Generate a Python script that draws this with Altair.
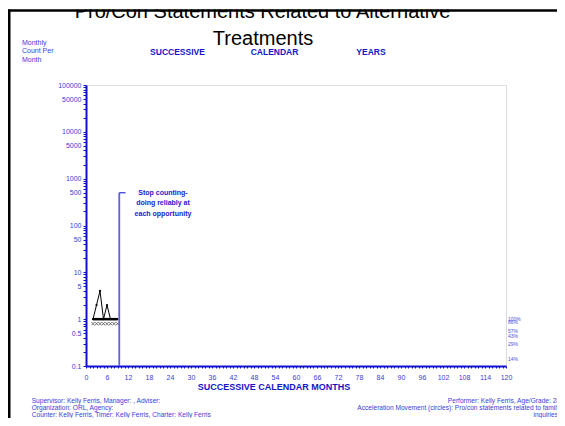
import altair as alt
import pandas as pd

# ---------------- data ----------------
months = [2, 3, 4, 5, 6, 7, 8, 9]
accel_counts = [1, 2, 4, 1, 2, 1, 1, 1]          # circles: pro/con statements
decel_counts = [0.8, 0.8, 0.8, 0.8, 0.8, 0.8, 0.8, 0.8]  # Xs: zero counts below floor
floor_months = [2, 9]
floor_values = [1, 1]
phase_month = 9.5
phase_top = 500
phase_end_month = 11.3
phase_text = ["Stop counting-", "doing reliably at", "each opportunity"]
phase_text_month = 22
pct_labels = ["100%", "86%", "57%", "43%", "29%", "14%"]
pct_values = [1.0, 0.86, 0.57, 0.43, 0.29, 0.14]
y_label_values = [0.1, 0.5, 1, 5, 10, 50, 100, 500, 1000, 5000, 10000, 50000, 100000]
x_label_step = 6

FONT = "Liberation Sans"
BLUE = "#1414c8"
LBLUE = "#3c3cdc"
AXBLUE = "#1010d0"

y_tick_values = []
for k in range(-1, 5):
    for m in range(1, 10):
        y_tick_values.append(round(m * 10 ** k, 6))
y_tick_values.append(100000)
x_tick_values = list(range(0, 121))

y_lab_expr = "indexof(" + str(y_label_values) + ", datum.value) >= 0 ? datum.label : ''"
x_lab_expr = "datum.value % " + str(x_label_step) + " == 0 ? datum.label : ''"

xscale = alt.Scale(domain=[0, 120], nice=False, zero=False)
yscale = alt.Scale(type="log", domain=[0.1, 100000], nice=False)
xaxis = alt.Axis(values=x_tick_values, labelExpr=x_lab_expr, title=None, tickSize=2,
                 labelPadding=5, labelFontSize=7, labelColor=LBLUE, labelFont=FONT,
                 domainColor=AXBLUE, domainWidth=2, tickColor=AXBLUE,
                 labelFlush=False, labelOverlap=False, labelBound=False, grid=False)
yaxis = alt.Axis(values=y_tick_values, labelExpr=y_lab_expr, format="~g", title=None,
                 tickSize=3, labelPadding=2, labelFontSize=7, labelColor=LBLUE,
                 labelFont=FONT, domainColor=AXBLUE, domainWidth=2,
                 tickColor=AXBLUE, labelOverlap=False, labelBound=False, grid=False)


def X(field="month"):
    return alt.X(field + ":Q", scale=xscale, axis=xaxis)


def Y(field="count"):
    return alt.Y(field + ":Q", scale=yscale, axis=yaxis)


acc_df = pd.DataFrame({"month": months, "count": accel_counts})
dec_df = pd.DataFrame({"month": months, "count": decel_counts})
floor_df = pd.DataFrame({"month": floor_months, "count": floor_values})
pct_df = pd.DataFrame({"label": pct_labels, "count": pct_values, "month": [120] * len(pct_values)})
phase_df = pd.DataFrame({"month": [phase_month], "count": [0.1], "top": [phase_top],
                         "m2": [phase_end_month], "tm": [phase_text_month],
                         "txt": [phase_text]})
one = alt.Data(values=[{}])

floor_line = alt.Chart(floor_df).mark_line(color="black", strokeWidth=2.5).encode(x=X(), y=Y())
acc_line = alt.Chart(acc_df).mark_line(
    color="black", strokeWidth=1,
    point=alt.OverlayMarkDef(filled=True, size=5, color="black")).encode(x=X(), y=Y())
dec_pts = alt.Chart(dec_df).mark_point(
    shape="M-1,-1L1,1M-1,1L1,-1", size=10, filled=False, color="black",
    strokeWidth=0.8).encode(x=X(), y=Y())

phase_v = alt.Chart(phase_df).mark_rule(color="#6060e6", strokeWidth=1.8).encode(
    x=X(), y=Y(), y2="top:Q")
phase_h = alt.Chart(phase_df).mark_rule(color="#3030d8", strokeWidth=1.2).encode(
    x=X(), x2="m2:Q", y=Y("top"))
phase_lbl = alt.Chart(phase_df).mark_text(
    font=FONT, fontSize=7, fontWeight="bold", color="#1a1ad0", lineHeight=10.7,
    align="center", baseline="middle").encode(
    x=X("tm"), y=Y("top"), text="txt")

pct_lbl = alt.Chart(pct_df).mark_text(
    font=FONT, fontSize=5, color="#5050dc", align="left", baseline="middle", dx=2).encode(
    x=X(), y=Y(), text="label:N")


def txt(text, x, y, size, color, align="left", weight="normal"):
    return alt.Chart(one).mark_text(
        font=FONT, fontSize=size, color=color, align=align, baseline="alphabetic",
        fontWeight=weight).encode(
        x=alt.value(x), y=alt.value(y), text=alt.value(text))


title1 = txt("Pro/Con Statements Related to Alternative", 176.5, -67, 20, "black", "center")
title2 = txt("Treatments", 177, -40, 20, "black", "center")
mask = alt.Chart(one).mark_rect(color="white").encode(
    x=alt.value(-80), x2=alt.value(480), y=alt.value(-80), y2=alt.value(-75.6))
top_border = alt.Chart(one).mark_rule(color="black", strokeWidth=2.5).encode(
    x=alt.value(-80), x2=alt.value(480), y=alt.value(-74.5))
left_border = alt.Chart(one).mark_rule(color="black", strokeWidth=2.5).encode(
    x=alt.value(-76.75), y=alt.value(-75.5), y2=alt.value(345))

hdr = [
    txt("Monthly", -64, -40.5, 7, LBLUE),
    txt("Count Per", -64, -32, 7, LBLUE),
    txt("Month", -64, -23.5, 7, LBLUE),
    txt("SUCCESSIVE", 91.5, -30, 8.5, BLUE, "center", "bold"),
    txt("CALENDAR", 188.5, -30, 8.5, BLUE, "center", "bold"),
    txt("YEARS", 285, -30, 8.5, BLUE, "center", "bold"),
    txt("SUCCESSIVE CALENDAR MONTHS", 188, 305, 9, BLUE, "center", "bold"),
]
FS = 6.6
foot = [
    txt("Supervisor: Kelly Ferris, Manager: , Adviser:", -54.3, 318.4, FS, LBLUE),
    txt("Organization: ORL, Agency:", -54.3, 325.3, FS, LBLUE),
    txt("Counter: Kelly Ferris, Timer: Kelly Ferris, Charter: Kelly Ferris", -54.3, 332.0, FS, LBLUE),
    txt("Performer: Kelly Ferris, Age/Grade: 28", 474, 318.4, FS, LBLUE, "right"),
    txt("Acceleration Movement (circles): Pro/con statements related to family", 474, 325.3, FS, LBLUE, "right"),
    txt("inquiries", 472, 332.0, FS, LBLUE, "right"),
    txt("Deceleration Movement (Xs): not being explicit with pro/ con statements", 474, 339.2, FS, LBLUE, "right"),
]

chart = alt.layer(
    floor_line, acc_line, dec_pts, phase_v, phase_h, phase_lbl, pct_lbl,
    title1, title2, mask, top_border, left_border, *hdr, *foot
).properties(
    width=420, height=281,
    autosize=alt.AutoSizeParams(type="none"),
    padding={"left": 78, "top": 77, "right": 51, "bottom": 52},
).configure_view(stroke="#1a1ad0", strokeWidth=1.5).configure(background="white")

chart.save("out.html", embed_options={"renderer": "svg", "actions": False})
